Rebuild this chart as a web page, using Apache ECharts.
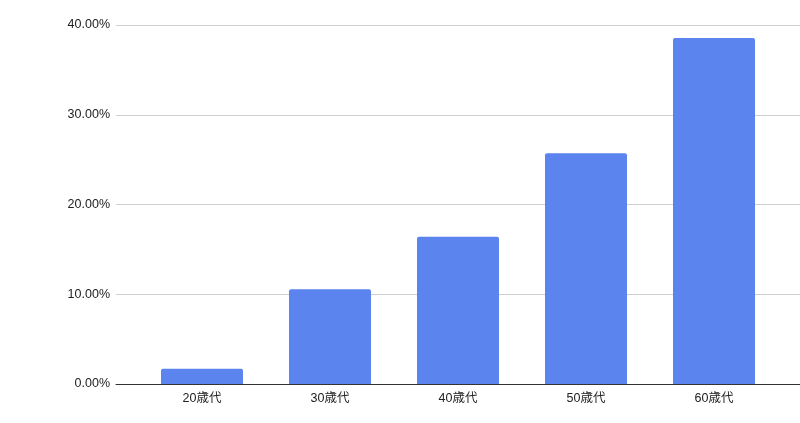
<!DOCTYPE html>
<html>
<head>
<meta charset="utf-8">
<script src="https://cdn.jsdelivr.net/npm/echarts@6/dist/echarts.min.js"></script>
<style>
  html, body { margin: 0; padding: 0; background: #fff; }
  #main { width: 800px; height: 423px; }
</style>
</head>
<body>
<div id="main"></div>
<script>
// 年代別の割合 (%)
var categories = ['20歳代', '30歳代', '40歳代', '50歳代', '60歳代'];
var values = [1.70, 10.55, 16.41, 25.70, 38.55];
var yTicks = [0, 10, 20, 30, 40];

var myChart = echarts.init(document.getElementById('main'));

var font = '"Liberation Sans", Arial, "Noto Sans CJK JP", sans-serif';

myChart.setOption({
    animation: false,
    grid: [
        // 目盛り線と軸線用 (全幅)
        { left: 116, right: 0, top: 25, bottom: 39 },
        // 棒グラフ用
        { left: 138, right: 22, top: 25, bottom: 39 }
    ],
    xAxis: [
        {
            gridIndex: 0,
            type: 'value',
            min: 0,
            max: 1,
            axisLine: { show: true, lineStyle: { color: '#333', width: 1 } },
            axisTick: { show: false },
            axisLabel: { show: false },
            splitLine: { show: false }
        },
        {
            gridIndex: 1,
            type: 'category',
            data: categories,
            axisLine: { show: false },
            axisTick: { show: false },
            axisLabel: {
                color: '#222',
                fontSize: 12.5,
                fontFamily: font,
                margin: 8
            }
        }
    ],
    yAxis: [
        {
            gridIndex: 0,
            type: 'value',
            min: yTicks[0],
            max: yTicks[yTicks.length - 1],
            interval: 10,
            axisLine: { show: false },
            axisTick: { show: false },
            axisLabel: {
                color: '#222',
                fontSize: 12.5,
                fontFamily: font,
                margin: 6,
                padding: [4, 0, 0, 0],
                formatter: function (v) { return v.toFixed(2) + '%'; }
            },
            splitLine: { lineStyle: { color: '#d0d0d0', width: 1 } }
        },
        {
            gridIndex: 1,
            type: 'value',
            min: yTicks[0],
            max: yTicks[yTicks.length - 1],
            interval: 10,
            show: false,
            splitLine: { show: false }
        }
    ],
    series: [
        {
            type: 'bar',
            xAxisIndex: 1,
            yAxisIndex: 1,
            data: values,
            barWidth: 82,
            itemStyle: { color: '#5b84ee', borderRadius: [2, 2, 0, 0] }
        }
    ]
});
</script>
</body>
</html>
